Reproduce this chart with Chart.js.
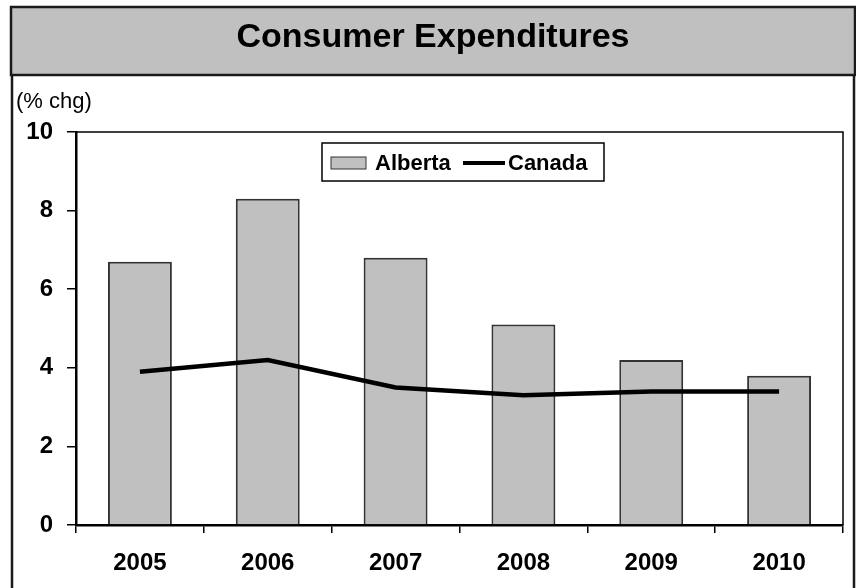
<!DOCTYPE html>
<html>
<head>
<meta charset="utf-8">
<script src="https://cdn.jsdelivr.net/npm/chart.js@4.4.1/dist/chart.umd.min.js"></script>
<style>
  body { margin: 0; background: #fff; }
  canvas { display: block; }
</style>
</head>
<body>
<canvas id="chart" width="856" height="588"></canvas>
<script>
const years = ["2005", "2006", "2007", "2008", "2009", "2010"]
const alberta = [6.7, 8.3, 6.8, 5.1, 4.2, 3.8]
const canada = [3.9, 4.2, 3.5, 3.3, 3.4, 3.4]
const yTicks = [0, 2, 4, 6, 8, 10]

const titleText = "Consumer Expenditures"
const unitText = "(% chg)"

// grey title band, outer frame and the unit label
const framePlugin = {
    id: "frame",
    beforeDraw(chart) {
        const ctx = chart.ctx
        ctx.save()
        ctx.fillStyle = "#fff"
        ctx.fillRect(0, 0, chart.width, chart.height)

        ctx.fillStyle = "#c0c0c0"
        ctx.fillRect(11, 7, 844, 68)
        ctx.strokeStyle = "#1a1a1a"
        ctx.lineWidth = 2.5
        ctx.strokeRect(11, 7, 844, 68)

        ctx.beginPath()
        ctx.moveTo(12, 75)
        ctx.lineTo(12, chart.height)
        ctx.moveTo(854, 75)
        ctx.lineTo(854, chart.height)
        ctx.stroke()

        ctx.fillStyle = "#000"
        ctx.textAlign = "center"
        ctx.textBaseline = "middle"
        ctx.font = "bold 34px Arial, 'Liberation Sans', sans-serif"
        ctx.fillText(titleText, 433, 38)

        ctx.textAlign = "left"
        ctx.font = "22px Arial, 'Liberation Sans', sans-serif"
        ctx.fillText(unitText, 16, 102)
        ctx.restore()
    },
    afterDatasetsDraw(chart) {
        const ctx = chart.ctx
        const area = chart.chartArea
        ctx.save()
        // thin box round the plot
        ctx.strokeStyle = "#000"
        ctx.lineWidth = 1.5
        ctx.beginPath()
        ctx.moveTo(area.left, area.top)
        ctx.lineTo(area.right, area.top)
        ctx.lineTo(area.right, area.bottom)
        ctx.stroke()

        // legend box: bars first, then the line
        const bars = chart.data.datasets[0]
        const line = chart.data.datasets[1]
        ctx.fillStyle = "#fff"
        ctx.fillRect(322, 143, 282, 38)
        ctx.strokeStyle = "#000"
        ctx.lineWidth = 1.5
        ctx.strokeRect(322, 143, 282, 38)

        ctx.fillStyle = bars.backgroundColor
        ctx.fillRect(331, 157, 35, 12)
        ctx.strokeStyle = bars.borderColor
        ctx.lineWidth = 1
        ctx.strokeRect(331, 157, 35, 12)

        ctx.strokeStyle = line.borderColor
        ctx.lineWidth = 4
        ctx.beginPath()
        ctx.moveTo(463, 163)
        ctx.lineTo(505, 163)
        ctx.stroke()

        ctx.fillStyle = "#000"
        ctx.font = "bold 22px Arial, 'Liberation Sans', sans-serif"
        ctx.textAlign = "left"
        ctx.textBaseline = "middle"
        ctx.fillText(bars.label, 375, 164)
        ctx.fillText(line.label, 508, 164)
        ctx.restore()
    }
}

const ctx = document.getElementById("chart").getContext("2d")

const myChart = new Chart(ctx, {
    data: {
        labels: years,
        datasets: [
            {
                type: "bar",
                label: "Alberta",
                data: alberta,
                backgroundColor: "#c0c0c0",
                borderColor: "#333",
                borderWidth: 2,
                barPercentage: 0.5,
                categoryPercentage: 1,
                order: 1
            },
            {
                type: "line",
                label: "Canada",
                data: canada,
                borderColor: "#000",
                borderWidth: 4.5,
                pointRadius: 0,
                tension: 0,
                order: 0
            }
        ]
    },
    options: {
        responsive: false,
        animation: false,
        layout: {
            padding: { top: 132, right: 13, left: 0, bottom: 0 }
        },
        plugins: {
            legend: { display: false },
            title: { display: false },
            tooltip: { enabled: false }
        },
        scales: {
            x: {
                offset: true,
                afterFit(scale) { scale.height = 63 },
                grid: {
                    offset: true,
                    drawOnChartArea: false,
                    drawTicks: true,
                    tickLength: 8,
                    color: "#000",
                    lineWidth: 1.5
                },
                border: { color: "#000", width: 2.5 },
                ticks: {
                    color: "#000",
                    padding: 16,
                    font: { family: "Arial, 'Liberation Sans', sans-serif", size: 24, weight: "bold" }
                }
            },
            y: {
                min: 0,
                max: 10,
                afterFit(scale) { scale.width = 76 },
                afterBuildTicks(scale) {
                    scale.ticks = yTicks.map(v => ({ value: v }))
                },
                grid: {
                    drawOnChartArea: false,
                    drawTicks: true,
                    tickLength: 9,
                    color: "#000",
                    lineWidth: 1.5
                },
                border: { color: "#000", width: 2.5 },
                ticks: {
                    color: "#000",
                    padding: 14,
                    font: { family: "Arial, 'Liberation Sans', sans-serif", size: 24, weight: "bold" }
                }
            }
        }
    },
    plugins: [framePlugin]
})
</script>
</body>
</html>
